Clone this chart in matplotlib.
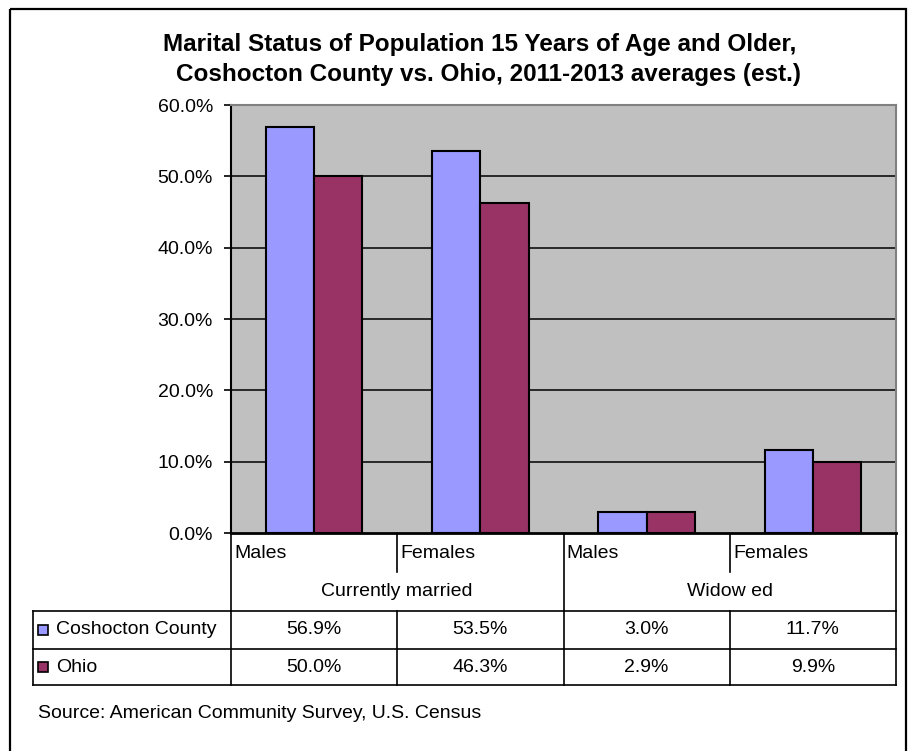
import matplotlib
matplotlib.use('Agg')
import matplotlib.pyplot as plt
import matplotlib.transforms as mtransforms
from matplotlib.patches import Rectangle

plt.rcParams['font.family'] = ['Liberation Sans', 'DejaVu Sans']

# data
sub_labels = ['Males', 'Females', 'Males', 'Females']
group_labels = ['Currently married', 'Widow ed']
series_names = ['Coshocton County', 'Ohio']
coshocton = [56.9, 53.5, 3.0, 11.7]
ohio = [50.0, 46.3, 2.9, 9.9]
colors = ['#9999FF', '#993366']
title_1 = 'Marital Status of Population 15 Years of Age and Older,'
title_2 = 'Coshocton County vs. Ohio, 2011-2013 averages (est.)'
source = 'Source: American Community Survey, U.S. Census'

W, H = 912, 751
fig = plt.figure(figsize=(W / 100, H / 100), dpi=100)

# overlay in pixel coordinates for frame, title and table
ov = fig.add_axes([0, 0, 1, 1], zorder=0)
ov.set_xlim(0, W)
ov.set_ylim(H, 0)
ov.axis('off')

# plot area
left, right, top, bottom = 231, 896, 105, 533
ax = fig.add_axes([left / W, 1 - bottom / H, (right - left) / W, (bottom - top) / H], zorder=1)
ax.set_facecolor('#C0C0C0')

x = list(range(len(sub_labels)))
bw = 0.29
ax.bar([i - bw / 2 for i in x], coshocton, bw, color=colors[0], edgecolor='black', linewidth=1.5, zorder=3)
ax.bar([i + bw / 2 for i in x], ohio, bw, color=colors[1], edgecolor='black', linewidth=1.5, zorder=3)

ax.set_xlim(-0.5, len(x) - 0.5)
ax.set_ylim(0, 60)
ax.set_yticks(range(0, 61, 10))
ax.set_yticklabels(['%.1f%%' % v for v in range(0, 61, 10)], fontsize=14)
ax.set_xticks([])
for v in range(10, 60, 10):
    ax.axhline(v, color='black', lw=1.1, zorder=1)
ax.tick_params(axis='y', direction='out', length=5, width=1.2, pad=8, color='black')
ax.spines['left'].set_linewidth(1.5)
ax.spines['bottom'].set_linewidth(2)
ax.spines['top'].set_color('#808080')
ax.spines['right'].set_color('#808080')
ax.spines['top'].set_linewidth(1.5)
ax.spines['right'].set_linewidth(1.5)

# frame
ov.add_patch(Rectangle((10, 9), 896, 760, fill=False, edgecolor='black', lw=1.6))

# title
ov.text(480, 44, title_1, ha='center', va='center', fontsize=17.5, fontweight='bold')
ov.text(489, 75, title_2, ha='center', va='center', fontsize=17.5, fontweight='bold')

# table: x from category scale, y in pixels
tr = mtransforms.blended_transform_factory(ax.transData, ov.transData)
lk = dict(color='black', lw=1.2, transform=tr, clip_on=False)
n = len(x)
y_axis, y_sub, y_grp, y_r1, y_r2 = 533, 572, 611, 649, 685

# category labels
for i, lab in enumerate(sub_labels):
    ov.text(i - 0.48, 553, lab, transform=tr, ha='left', va='center', fontsize=14)
for g, lab in enumerate(group_labels):
    ov.text(2 * g + 0.5, 591, lab, transform=tr, ha='center', va='center', fontsize=14)
for i in range(1, n, 2):
    ov.plot([i - 0.5, i - 0.5], [y_axis, y_sub], **lk)
for i in range(0, n + 1, 2):
    ov.plot([i - 0.5, i - 0.5], [y_axis, y_grp], **lk)

# data rows
x_tab = -0.5 - (left - 33) / ((right - left) / n)
for yy in (y_grp, y_r1, y_r2):
    ov.plot([x_tab, n - 0.5], [yy, yy], **lk)
ov.plot([x_tab, x_tab], [y_grp, y_r2], **lk)
for i in range(n + 1):
    ov.plot([i - 0.5, i - 0.5], [y_grp, y_r2], **lk)

rows = [coshocton, ohio]
row_y = [(y_grp + y_r1) / 2, (y_r1 + y_r2) / 2]
for r, vals in enumerate(rows):
    ov.add_patch(Rectangle((38, row_y[r] - 5), 10, 10, facecolor=colors[r], edgecolor='black', lw=1.2))
    ov.text(56, row_y[r], series_names[r], ha='left', va='center', fontsize=14)
    for i, v in enumerate(vals):
        ov.text(i, row_y[r], '%.1f%%' % v, transform=tr, ha='center', va='center', fontsize=14)

ov.text(38, 713, source, ha='left', va='center', fontsize=14)

fig.savefig('out.png', dpi=100)
